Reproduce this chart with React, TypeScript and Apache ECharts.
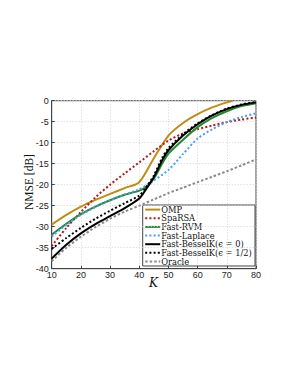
import React, { useEffect, useRef } from "react";
import * as echarts from "echarts";

const kOMP = [10, 15, 20, 25, 30, 35, 40, 45, 50, 55, 60, 65, 70, 72];
const vOMP = [-29.5, -27.2, -25.2, -23.6, -22.2, -20.8, -19.4, -13.7, -8.3, -5.3, -3.2, -1.6, -0.4, 0];

const kSpa = [10, 15, 20, 25, 30, 35, 40, 45, 50, 55, 60, 65, 70, 75, 80];
const vSpa = [-34.6, -30.3, -26.5, -23.0, -20.0, -17.3, -14.7, -12.0, -9.5, -7.8, -6.8, -5.9, -5.1, -4.5, -4.0];

const kRVM = [10, 15, 20, 25, 30, 35, 40, 42, 45, 48, 50, 55, 60, 65, 70, 75, 80];
const vRVM = [-31.9, -29.3, -27.0, -25.2, -23.7, -22.4, -21.4, -20.7, -18.5, -14.8, -12.6, -9.3, -6.3, -4.1, -2.5, -1.3, -0.6];

const kLap = [10, 15, 20, 25, 30, 35, 40, 45, 50, 55, 60, 65, 70, 75, 80];
const vLap = [-32.3, -29.6, -27.2, -25.3, -23.7, -22.3, -21.1, -19.0, -16.5, -12.7, -9.0, -6.8, -5.1, -3.9, -3.0];

const kBK0 = [10, 15, 20, 25, 30, 35, 40, 42, 45, 48, 50, 55, 60, 65, 70, 75, 80];
const vBK0 = [-37.6, -34.3, -31.6, -29.4, -27.5, -25.6, -23.3, -21.4, -18.2, -14.0, -11.8, -8.3, -5.6, -3.5, -2.0, -1.0, -0.4];

const kBK5 = [10, 15, 20, 25, 30, 35, 40, 42, 45, 48, 50, 55, 60, 65, 70, 75, 80];
const vBK5 = [-35.3, -32.7, -30.3, -28.1, -26.2, -24.4, -22.6, -21.0, -17.8, -13.4, -11.3, -8.0, -5.4, -3.4, -1.9, -0.9, -0.3];

const kOra = [10, 15, 20, 25, 30, 35, 40, 45, 50, 55, 60, 65, 70, 75, 80];
const vOra = [-38.2, -35.0, -32.4, -30.1, -28.1, -26.4, -25.0, -23.5, -22.0, -20.7, -19.4, -18.1, -16.8, -15.4, -14.0];

const seriesNames = [
  "OMP",
  "SpaRSA",
  "Fast-RVM",
  "Fast-Laplace",
  "Fast-BesselK(\u03f5 = 0)",
  "Fast-BesselK(\u03f5 = 1/2)",
  "Oracle",
];
const seriesColors = ["#bf8d14", "#b5171e", "#23892a", "#4b9ff0", "#000000", "#000000", "#8a8a8a"];
const seriesDash: (number[] | null)[] = [null, [2, 2.2], null, [2, 2.2], null, [2, 2.2], [2.5, 2]];
const xTicks = [10, 20, 30, 40, 50, 60, 70, 80];
const yTicks = [0, -5, -10, -15, -20, -25, -30, -35, -40];
const xName = "K";
const yName = "NMSE [dB]";

const pair = (k: number[], v: number[]) => k.map((x, i) => [x, v[i]]);

export default function App() {
  const ref = useRef<HTMLDivElement>(null);
  useEffect(() => {
    if (!ref.current) return;
    const chart = echarts.init(ref.current, undefined, { renderer: "svg" });
    const datas = [
      pair(kOMP, vOMP),
      pair(kSpa, vSpa),
      pair(kRVM, vRVM),
      pair(kLap, vLap),
      pair(kBK0, vBK0),
      pair(kBK5, vBK5),
      pair(kOra, vOra),
    ];
    const series = seriesNames.map((name, i) => ({
      name,
      type: "line",
      data: datas[i],
      showSymbol: false,
      symbol: "none",
      smooth: 0.25,
      lineStyle: { color: seriesColors[i], width: 2, type: seriesDash[i] || "solid" },
      itemStyle: { color: seriesColors[i] },
      z: 2,
    }));

    // legend drawn as graphic
    const lx = 142.7;
    const ly = 205;
    const lw = 112.3;
    const lh = 61;
    const legendChildren: any[] = [
      {
        type: "rect",
        shape: { x: lx, y: ly, width: lw, height: lh },
        style: { fill: "#fff", stroke: "#444", lineWidth: 1 },
      },
    ];
    seriesNames.forEach((name, i) => {
      const cy = ly + 4.6 + i * 8.65;
      legendChildren.push({
        type: "line",
        shape: { x1: lx + 2.5, y1: cy, x2: lx + 17.5, y2: cy },
        style: {
          stroke: seriesColors[i],
          lineWidth: 2,
          lineDash: seriesDash[i] || null,
        },
      });
      legendChildren.push({
        type: "text",
        x: lx + 18.5,
        y: cy,
        style: {
          text: name,
          fontFamily: "DejaVu Serif",
          fontSize: 8.3,
          lineHeight: 8.3,
          fill: "#111",
          verticalAlign: "middle",
          align: "left",
        },
      });
    });

    chart.setOption({
      animation: false,
      grid: {
        left: 51.7,
        right: 35,
        top: 100.7,
        bottom: 107.3,
        show: true,
        borderColor: "#444",
        borderWidth: 1,
        backgroundColor: "transparent",
      },
      xAxis: {
        type: "value",
        min: 10,
        max: 80,
        interval: 10,
        axisLine: { show: true, onZero: false, lineStyle: { color: "#444", width: 1 } },
        axisTick: { show: true, inside: true, length: 3, lineStyle: { color: "#444" } },
        axisLabel: {
          margin: 2,
          fontFamily: "Liberation Sans",
          fontSize: 9,
          color: "#222",
          formatter: (v: number) => (xTicks.includes(v) ? String(v) : ""),
        },
        splitLine: { show: true, lineStyle: { color: "#d2d2d2", type: [1, 2], width: 1 } },
      },
      yAxis: {
        type: "value",
        min: -40,
        max: 0,
        interval: 5,
        axisLine: { show: true, onZero: false, lineStyle: { color: "#444", width: 1 } },
        axisTick: { show: true, inside: true, length: 3, lineStyle: { color: "#444" } },
        axisLabel: {
          margin: 3,
          fontFamily: "Liberation Sans",
          fontSize: 9,
          color: "#222",
          formatter: (v: number) => (yTicks.includes(v) ? String(v) : ""),
        },
        splitLine: { show: true, lineStyle: { color: "#d2d2d2", type: [1, 2], width: 1 } },
      },
      series,
      graphic: [
        { type: "group", z: 100, children: legendChildren },
        {
          type: "text",
          x: 28.5,
          y: 182,
          rotation: Math.PI / 2,
          style: {
            text: yName,
            fontFamily: "Liberation Serif",
            fontSize: 11.5,
            fill: "#111",
            align: "center",
            verticalAlign: "middle",
          },
        },
        {
          type: "text",
          x: 153.5,
          y: 282.5,
          style: {
            text: xName,
            fontFamily: "DejaVu Serif",
            fontStyle: "italic",
            fontSize: 12,
            fill: "#111",
            align: "center",
            verticalAlign: "middle",
          },
        },
      ],
    });
    return () => chart.dispose();
  }, []);
  return <div ref={ref} style={{ width: 291, height: 376, margin: -8 }} />;
}
